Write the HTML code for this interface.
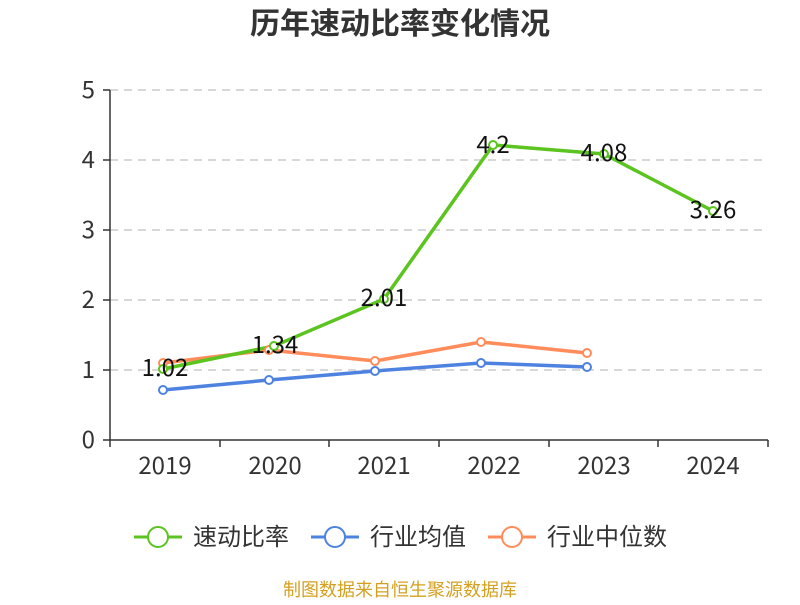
<!DOCTYPE html>
<html><head><meta charset="utf-8"><style>body{margin:0;background:#fff}</style></head>
<body>
<svg width="800" height="600" xmlns="http://www.w3.org/2000/svg" font-family="Noto Sans CJK SC, Liberation Sans, sans-serif">
<text x="400" y="34" text-anchor="middle" font-size="30" font-weight="bold" fill="#333">历年速动比率变化情况</text>
<g stroke="#ccc" stroke-dasharray="8,6" stroke-width="1.5">
<line x1="110" x2="768" y1="90" y2="90"/><line x1="110" x2="768" y1="160" y2="160"/><line x1="110" x2="768" y1="230" y2="230"/><line x1="110" x2="768" y1="300" y2="300"/><line x1="110" x2="768" y1="370" y2="370"/>
</g>
<g stroke="#333" stroke-width="1.5">
<line x1="110" x2="110" y1="90" y2="440"/><line x1="110" x2="768" y1="440" y2="440"/>
<line x1="103" x2="110" y1="90" y2="90"/><line x1="103" x2="110" y1="160" y2="160"/><line x1="103" x2="110" y1="230" y2="230"/><line x1="103" x2="110" y1="300" y2="300"/><line x1="103" x2="110" y1="370" y2="370"/><line x1="103" x2="110" y1="440" y2="440"/>
<line x1="110" x2="110" y1="440" y2="447"/><line x1="220" x2="220" y1="440" y2="447"/><line x1="329" x2="329" y1="440" y2="447"/><line x1="439" x2="439" y1="440" y2="447"/><line x1="549" x2="549" y1="440" y2="447"/><line x1="658" x2="658" y1="440" y2="447"/><line x1="768" x2="768" y1="440" y2="447"/>
</g>
<g font-size="24" fill="#333" text-anchor="end">
<text x="95" y="98">5</text><text x="95" y="168">4</text><text x="95" y="238">3</text><text x="95" y="308">2</text><text x="95" y="378">1</text><text x="95" y="448">0</text>
</g>
<g font-size="24" fill="#333" text-anchor="middle">
<text x="165" y="474">2019</text><text x="275" y="474">2020</text><text x="384" y="474">2021</text><text x="494" y="474">2022</text><text x="604" y="474">2023</text><text x="713" y="474">2024</text>
</g>
<polyline fill="none" stroke="#4e82e0" stroke-width="3.5" points="163,390 269,380 375,371 481,363 587,367"/>
<polyline fill="none" stroke="#ff8c5a" stroke-width="3.5" points="163,363 269,350 375,361 481,342 587,353"/>
<polyline fill="none" stroke="#5cc41f" stroke-width="3.5" points="163,369 274,346 384,299 493,145 604,154 713,211"/>
<g fill="#fff" stroke="#4e82e0" stroke-width="2"><circle cx="163" cy="390" r="4"/><circle cx="269" cy="380" r="4"/><circle cx="375" cy="371" r="4"/><circle cx="481" cy="363" r="4"/><circle cx="587" cy="367" r="4"/></g>
<g fill="#fff" stroke="#ff8c5a" stroke-width="2"><circle cx="163" cy="363" r="4"/><circle cx="269" cy="350" r="4"/><circle cx="375" cy="361" r="4"/><circle cx="481" cy="342" r="4"/><circle cx="587" cy="353" r="4"/></g>
<g fill="#fff" stroke="#5cc41f" stroke-width="2"><circle cx="163" cy="369" r="4"/><circle cx="274" cy="346" r="4"/><circle cx="384" cy="299" r="4"/><circle cx="493" cy="145" r="4"/><circle cx="604" cy="154" r="4"/><circle cx="713" cy="211" r="4"/></g>
<g font-size="24" fill="#111" text-anchor="middle">
<text x="165" y="376">1.02</text><text x="275" y="353">1.34</text><text x="384" y="306">2.01</text><text x="493" y="153">4.2</text><text x="604" y="161">4.08</text><text x="713" y="218">3.26</text>
</g>
<g font-size="24" fill="#333">
<line x1="134" x2="182" y1="537" y2="537" stroke="#5cc41f" stroke-width="3"/><circle cx="158" cy="537" r="10" fill="#fff" stroke="#5cc41f" stroke-width="2"/><text x="193" y="545">速动比率</text>
<line x1="311" x2="359" y1="537" y2="537" stroke="#4e82e0" stroke-width="3"/><circle cx="335" cy="537" r="10" fill="#fff" stroke="#4e82e0" stroke-width="2"/><text x="370" y="545">行业均值</text>
<line x1="488" x2="536" y1="537" y2="537" stroke="#ff8c5a" stroke-width="3"/><circle cx="512" cy="537" r="10" fill="#fff" stroke="#ff8c5a" stroke-width="2"/><text x="547" y="545">行业中位数</text>
</g>
<text x="400" y="596" text-anchor="middle" font-size="18" fill="#d4a020">制图数据来自恒生聚源数据库</text>
</svg>
</body></html>
